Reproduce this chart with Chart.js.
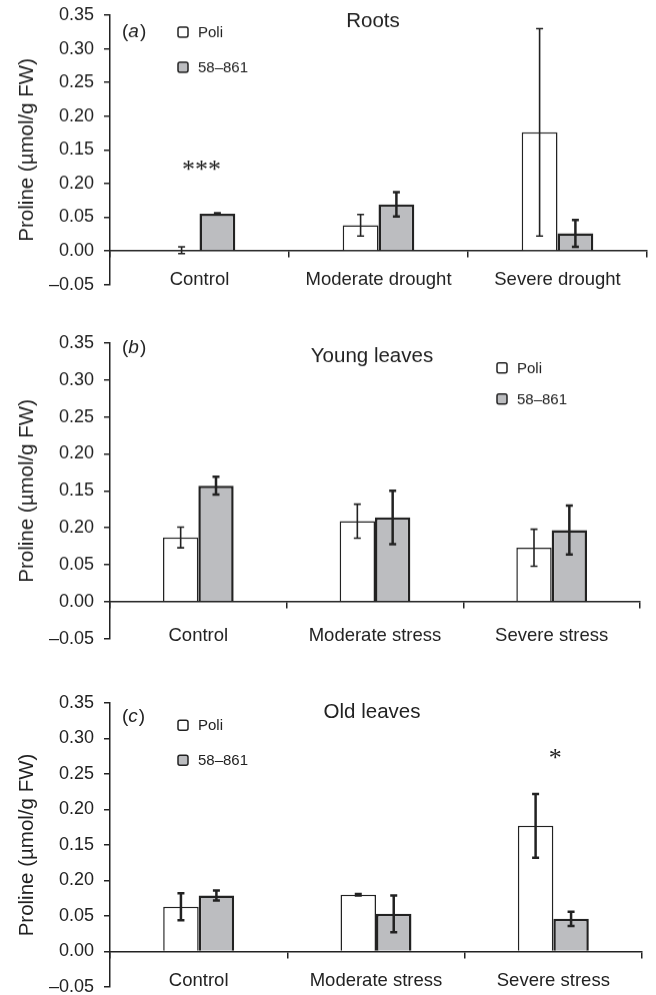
<!DOCTYPE html>
<html>
<head>
<meta charset="utf-8">
<script src="https://cdn.jsdelivr.net/npm/chart.js@4.4.1/dist/chart.umd.min.js"></script>
<style>
  html, body { margin: 0; background: #fff; overflow: hidden; }
  .panel { position: absolute; left: 0; width: 656px; }
</style>
</head>
<body>
<div class="panel" id="wrap-roots"><canvas id="roots"></canvas></div>
<div class="panel" id="wrap-young"><canvas id="young"></canvas></div>
<div class="panel" id="wrap-old"><canvas id="old"></canvas></div>
<script>
// categories
const droughtCats = ["Control", "Moderate drought", "Severe drought"];
const stressCats = ["Control", "Moderate stress", "Severe stress"];
const seriesNames = ["Poli", "58\u2013861"];

// y ticks (the printed figure labels 0.10 as "0.20")
const yTickValues = [-0.05, 0, 0.05, 0.10, 0.15, 0.20, 0.25, 0.30, 0.35];
const yTickLabels = ["\u20130.05", "0.00", "0.05", "0.20", "0.15", "0.20", "0.25", "0.30", "0.35"];

// (a) roots
const rootsPoli = [0.001, 0.038, 0.176];
const rootsPoliErr = [0.005, 0.016, 0.154];
const roots58 = [0.055, 0.069, 0.026];
const roots58Err = [0.001, 0.018, 0.020];
const rootsMarks = [{ category: "Control", value: 0.128, text: "***" }];

// (b) young leaves
const youngPoli = [0.087, 0.109, 0.073];
const youngPoliErr = [0.014, 0.023, 0.025];
const young58 = [0.157, 0.114, 0.097];
const young58Err = [0.012, 0.036, 0.033];
const youngMarks = [];

// (c) old leaves
const oldPoli = [0.063, 0.080, 0.177];
const oldPoliErr = [0.019, 0.001, 0.045];
const old58 = [0.079, 0.053, 0.046];
const old58Err = [0.007, 0.026, 0.010];
const oldMarks = [{ category: "Severe stress", value: 0.279, text: "*" }];

const FONT = "'Liberation Sans', Arial, Helvetica, sans-serif";
const INK = "#222";
const GREY = "#bcbdc0";
const PAD = 20; // top/bottom layout padding, above Chart.js' own minimum

// error bars, titles, legend and significance marks
const panelDecor = {
  id: "panelDecor",
  afterDatasetsDraw(chart) {
    const ctx = chart.ctx;
    const y = chart.scales.y;
    chart.data.datasets.forEach((ds, i) => {
      const meta = chart.getDatasetMeta(i);
      ctx.save();
      ctx.strokeStyle = INK;
      ctx.lineWidth = ds.errWidth;
      meta.data.forEach((bar, j) => {
        const top = y.getPixelForValue(ds.data[j] + ds.errors[j]);
        const bot = y.getPixelForValue(ds.data[j] - ds.errors[j]);
        ctx.beginPath();
        ctx.moveTo(bar.x, top); ctx.lineTo(bar.x, bot);
        ctx.moveTo(bar.x - 3.5, top); ctx.lineTo(bar.x + 3.5, top);
        ctx.moveTo(bar.x - 3.5, bot); ctx.lineTo(bar.x + 3.5, bot);
        ctx.stroke();
      });
      ctx.restore();
    });
  },
  afterDraw(chart, args, opts) {
    const ctx = chart.ctx;
    const dy = -opts.pageTop; // decor positions are given in page coordinates
    ctx.save();
    ctx.fillStyle = INK;
    ctx.textBaseline = "middle";

    // panel title
    ctx.font = "20.5px " + FONT;
    ctx.textAlign = "center";
    ctx.fillText(opts.title, opts.titleX, opts.titleY + dy);

    // panel letter with italic a/b/c
    ctx.textAlign = "left";
    let x = opts.letterX;
    ctx.font = "19px " + FONT;
    ctx.fillText("(", x, opts.letterY + dy);
    x += ctx.measureText("(").width;
    ctx.font = "italic 19px " + FONT;
    ctx.fillText(opts.letter, x, opts.letterY + dy);
    x += ctx.measureText(opts.letter).width + 1;
    ctx.font = "19px " + FONT;
    ctx.fillText(")", x, opts.letterY + dy);

    // legend
    ctx.font = "15px " + FONT;
    chart.data.datasets.forEach((ds, i) => {
      const ly = opts.legendY[i] + dy;
      ctx.beginPath();
      ctx.roundRect(opts.legendX, ly - 5, 10, 10, 2);
      ctx.fillStyle = ds.backgroundColor;
      ctx.fill();
      ctx.lineWidth = 1.5;
      ctx.strokeStyle = INK;
      ctx.stroke();
      ctx.fillStyle = INK;
      ctx.fillText(ds.label, opts.legendX + 20, ly + 1);
    });

    // significance marks
    ctx.font = "26px 'Liberation Serif', 'Times New Roman', serif";
    ctx.textAlign = "center";
    ctx.textBaseline = "alphabetic";
    opts.marks.forEach(m => {
      const mx = chart.scales.x.getPixelForValue(chart.data.labels.indexOf(m.category));
      const my = chart.scales.y.getPixelForValue(m.value);
      ctx.fillText(m.text, mx + 2, my + 13);
    });
    ctx.restore();
  }
};

// areaTop / areaBottom: page y of the 0.35 and -0.05 ticks
function makePanel(id, cats, poli, poliErr, s58, s58Err, decor, areaTop, areaBottom, right, tickPad, poliErrWidth) {
  const pageTop = areaTop - PAD;
  const wrap = document.getElementById("wrap-" + id);
  wrap.style.top = pageTop + "px";
  wrap.style.height = (areaBottom + PAD - pageTop) + "px";
  decor.pageTop = pageTop;

  const ctx = document.getElementById(id).getContext("2d");
  return new Chart(ctx, {
    type: "bar",
    data: {
      labels: cats,
      datasets: [
        {
          label: seriesNames[0], data: poli, errors: poliErr, errWidth: poliErrWidth,
          backgroundColor: "#ffffff", borderColor: INK, borderWidth: 1.5,
          categoryPercentage: 0.4, barPercentage: 1
        },
        {
          label: seriesNames[1], data: s58, errors: s58Err, errWidth: 2.5,
          backgroundColor: GREY, borderColor: INK, borderWidth: 2.5,
          categoryPercentage: 0.4, barPercentage: 1
        }
      ]
    },
    options: {
      responsive: true,
      maintainAspectRatio: false,
      animation: false,
      layout: { padding: { top: PAD, bottom: PAD, left: 0, right: right }, autoPadding: false },
      plugins: {
        legend: { display: false },
        tooltip: { enabled: false },
        panelDecor: decor
      },
      scales: {
        x: {
          position: { y: 0 },
          offset: true,
          z: 1,
          grid: { offset: true, drawOnChartArea: false, tickLength: 6, color: INK, lineWidth: 1.5 },
          border: { color: INK, width: 1.5 },
          ticks: { color: INK, font: { family: FONT, size: 18.5 }, padding: tickPad, maxRotation: 0 }
        },
        y: {
          min: -0.05,
          max: 0.35,
          afterBuildTicks: s => { s.ticks = yTickValues.map(v => ({ value: v })); },
          afterFit: s => { s.width = 110; },
          ticks: {
            color: INK, padding: 10,
            font: { family: FONT, size: 18, lineHeight: 1 },
            callback: (v, i) => yTickLabels[i]
          },
          grid: { drawOnChartArea: false, tickLength: 6, color: INK, lineWidth: 1.5 },
          border: { color: INK, width: 1.5 },
          title: {
            display: true, text: "Proline (\u00b5mol/g FW)", color: INK,
            font: { family: FONT, size: 20.5 }, padding: { top: 15, bottom: 0 }
          }
        }
      }
    },
    plugins: [panelDecor]
  });
}

makePanel("roots", droughtCats, rootsPoli, rootsPoliErr, roots58, roots58Err, {
  title: "Roots", titleX: 373, titleY: 21,
  letter: "a", letterX: 122, letterY: 32,
  legendX: 178, legendY: [32, 67],
  marks: rootsMarks
}, 15, 283.6, 9, 11.5, 1.6);

makePanel("young", stressCats, youngPoli, youngPoliErr, young58, young58Err, {
  title: "Young leaves", titleX: 372, titleY: 357,
  letter: "b", letterX: 122, letterY: 348,
  legendX: 497, legendY: [368, 399],
  marks: youngMarks
}, 343.3, 638, 16, 17, 1.6);

makePanel("old", stressCats, oldPoli, oldPoliErr, old58, old58Err, {
  title: "Old leaves", titleX: 372, titleY: 712,
  letter: "c", letterX: 122, letterY: 716,
  legendX: 178, legendY: [725, 760],
  marks: oldMarks
}, 702.7, 986.7, 14, 12.5, 2.5);
</script>
</body>
</html>
